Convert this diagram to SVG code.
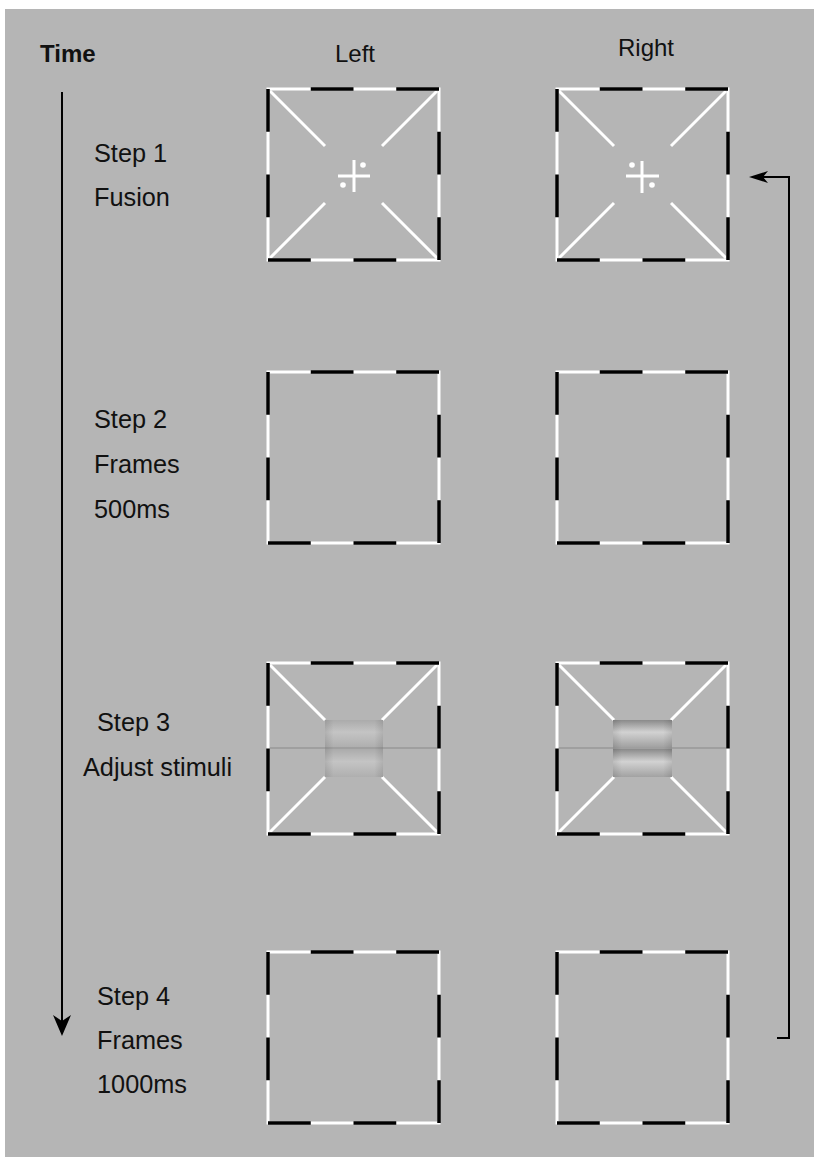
<svg xmlns="http://www.w3.org/2000/svg" xmlns:xlink="http://www.w3.org/1999/xlink" width="814" height="1157" viewBox="0 0 814 1157">
<style>
  .lbl { font-family: "Liberation Sans", Arial, sans-serif; font-size: 24px; fill: #111; }
  .step { font-size: 25.3px; }
  .bold { font-weight: bold; }
  .wh { stroke: #fff; stroke-width: 3; fill: none; }
  .conn { stroke: #000; stroke-width: 2; fill: none; }
</style>
<defs>
  <g id="frameBorder">
    <rect x="0" y="0" width="171" height="171" fill="none" stroke="#fff" stroke-width="3"/>
    <path d="M0,0 H171 V171 H0 Z" fill="none" stroke="#000" stroke-width="3.5" stroke-dasharray="42.75 42.75" stroke-dashoffset="42.75"/>
  </g>
  <g id="diagonals" class="wh">
    <line x1="2" y1="2" x2="57" y2="57"/>
    <line x1="169" y1="2" x2="114" y2="57"/>
    <line x1="2" y1="169" x2="57" y2="114"/>
    <line x1="169" y1="169" x2="114" y2="114"/>
  </g>
  <linearGradient id="bandL" x1="0" y1="0" x2="0" y2="1">
    <stop offset="0" stop-color="#ababab"/>
    <stop offset="0.45" stop-color="#c4c4c4"/>
    <stop offset="1" stop-color="#afafaf"/>
  </linearGradient>
  <linearGradient id="bandR" x1="0" y1="0" x2="0" y2="1">
    <stop offset="0" stop-color="#8a8a8a"/>
    <stop offset="0.45" stop-color="#d2d2d2"/>
    <stop offset="1" stop-color="#a2a2a2"/>
  </linearGradient>
  <linearGradient id="edgeShade" x1="0" y1="0" x2="1" y2="0">
    <stop offset="0" stop-color="#000" stop-opacity="0.10"/>
    <stop offset="0.15" stop-color="#000" stop-opacity="0"/>
    <stop offset="0.85" stop-color="#000" stop-opacity="0"/>
    <stop offset="1" stop-color="#000" stop-opacity="0.10"/>
  </linearGradient>
</defs>

<rect x="0" y="0" width="814" height="1157" fill="#fff"/>
<rect x="5" y="9" width="809" height="1148" fill="#b5b5b5"/>

<g id="headers">
  <text class="lbl bold" x="40" y="62">Time</text>
  <text class="lbl" x="335" y="62">Left</text>
  <text class="lbl" x="618" y="56">Right</text>
</g>

<g id="step-labels">
  <text class="lbl step" x="94" y="162">Step 1</text>
  <text class="lbl step" x="94" y="206">Fusion</text>
  <text class="lbl step" x="94" y="428">Step 2</text>
  <text class="lbl step" x="94" y="473">Frames</text>
  <text class="lbl step" x="94" y="518">500ms</text>
  <text class="lbl step" x="97" y="731">Step 3</text>
  <text class="lbl step" x="83" y="776">Adjust stimuli</text>
  <text class="lbl step" x="97" y="1005">Step 4</text>
  <text class="lbl step" x="97" y="1049">Frames</text>
  <text class="lbl step" x="97" y="1093">1000ms</text>
</g>

<g id="step1-left" transform="translate(268,89)">
  <use xlink:href="#diagonals"/>
  <use xlink:href="#frameBorder"/>
  <g class="wh">
    <line x1="70" y1="87" x2="102" y2="87"/>
    <line x1="86" y1="71" x2="86" y2="103"/>
  </g>
  <circle cx="95" cy="76" r="2.8" fill="#fff"/>
  <circle cx="75" cy="96" r="2.8" fill="#fff"/>
</g>

<g id="step1-right" transform="translate(557,89)">
  <use xlink:href="#diagonals"/>
  <use xlink:href="#frameBorder"/>
  <g class="wh">
    <line x1="69" y1="87" x2="102" y2="87"/>
    <line x1="85" y1="72" x2="85" y2="104"/>
  </g>
  <circle cx="75" cy="76" r="2.8" fill="#fff"/>
  <circle cx="95" cy="96" r="2.8" fill="#fff"/>
</g>

<g id="step2-left" transform="translate(268,372)">
  <use xlink:href="#frameBorder"/>
</g>
<g id="step2-right" transform="translate(557,372)">
  <use xlink:href="#frameBorder"/>
</g>

<g id="step3-left" transform="translate(268,663)">
  <line x1="1.5" y1="85" x2="169.5" y2="85" stroke="#999" stroke-width="1.5"/>
  <use xlink:href="#diagonals"/>
  <rect x="57" y="57" width="58" height="27" fill="url(#bandL)"/>
  <rect x="57" y="86" width="58" height="28" fill="url(#bandL)"/>
  <rect x="57" y="57" width="58" height="57" fill="url(#edgeShade)"/>
  <use xlink:href="#frameBorder"/>
</g>

<g id="step3-right" transform="translate(557,663)">
  <line x1="1.5" y1="85" x2="169.5" y2="85" stroke="#999" stroke-width="1.5"/>
  <use xlink:href="#diagonals"/>
  <rect x="56" y="57" width="59" height="27" fill="url(#bandR)"/>
  <rect x="56" y="86" width="59" height="28" fill="url(#bandR)"/>
  <rect x="56" y="57" width="59" height="57" fill="url(#edgeShade)"/>
  <use xlink:href="#frameBorder"/>
</g>

<g id="step4-left" transform="translate(268,952)">
  <use xlink:href="#frameBorder"/>
</g>
<g id="step4-right" transform="translate(557,952)">
  <use xlink:href="#frameBorder"/>
</g>

<g id="connectors">
  <line class="conn" x1="62" y1="92" x2="62" y2="1022"/>
  <polygon points="62,1036 53,1015 62,1021 71,1015" fill="#000"/>
  <path class="conn" d="M777,1038 H789 V177 H762"/>
  <polygon points="749,177 768,171 763,177 768,183" fill="#000"/>
</g>
</svg>
